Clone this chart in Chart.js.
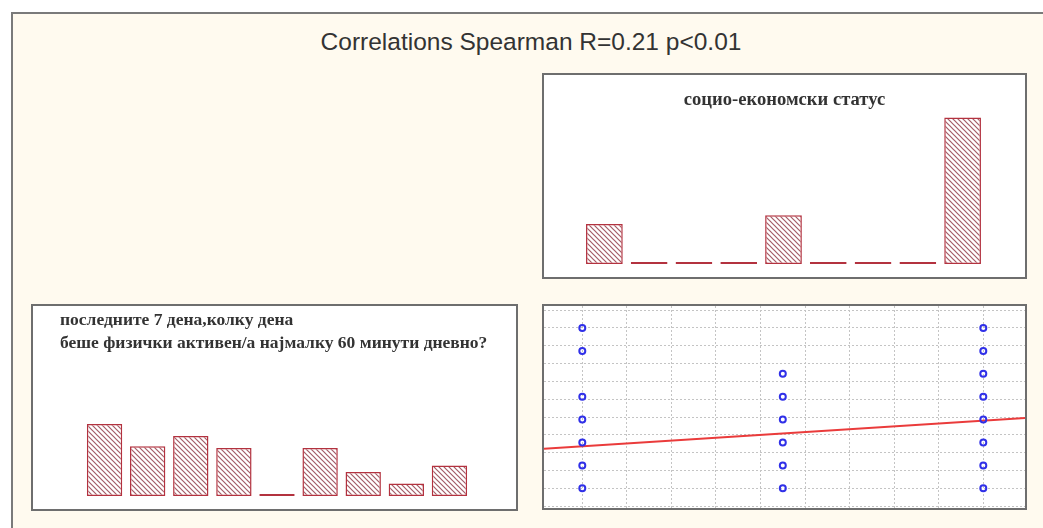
<!DOCTYPE html>
<html lang="mk">
<head>
    <meta charset="UTF-8">
    <title>Correlations Spearman</title>
    <script src="https://cdn.jsdelivr.net/npm/chart.js"></script>
    <style>
        * {
            margin: 0;
            padding: 0;
            box-sizing: border-box;
        }

        body {
            width: 1043px;
            height: 528px;
            overflow: hidden;
            position: relative;
            background: #ffffff;
            font-family: "Liberation Sans", Arial, sans-serif;
        }

        /* outer frame */
        .frame {
            position: absolute;
            left: 11px;
            top: 12px;
            width: 1040px;
            height: 520px;
            border-left: 2px solid #7a7a7a;
            border-top: 2px solid #7a7a7a;
            background: #fffaef;
        }

        .main-title {
            position: absolute;
            left: 0;
            top: 28px;
            width: 1062px;
            text-align: center;
            font-size: 24.5px;
            line-height: 28px;
            color: #333;
        }

        .panel {
            position: absolute;
            background: #fff;
            border: 2px solid #6e6e6e;
        }

        .panel canvas {
            position: absolute;
            left: 0;
            top: 0;
        }

        .panel-title {
            position: absolute;
            font-family: "Liberation Serif", "Times New Roman", serif;
            font-weight: bold;
            font-size: 17.5px;
            line-height: 23px;
            color: #333;
            white-space: nowrap;
        }

        #status { left: 542px; top: 73px; width: 485px; height: 206px; }
        #activity { left: 31px; top: 304px; width: 487px; height: 207px; }
        #scatter { left: 542px; top: 304px; width: 485px; height: 206px; }
    </style>
</head>
<body>

    <div class="frame"></div>
    <div class="main-title">Correlations Spearman R=0.21 p&lt;0.01</div>

    <!-- socio-economic status histogram -->
    <div class="panel" id="status">
        <canvas id="statusChart" width="481" height="202"></canvas>
        <div class="panel-title" style="left:0; width:481px; top:12px; text-align:center; font-size:18.6px;">социо-економски статус</div>
    </div>

    <!-- physical activity histogram -->
    <div class="panel" id="activity">
        <canvas id="activityChart" width="483" height="203"></canvas>
        <div class="panel-title" style="left:27px; top:2px;">последните 7 дена,колку дена<br>беше физички активен/а најмалку 60 минути дневно?</div>
    </div>

    <!-- scatter -->
    <div class="panel" id="scatter">
        <canvas id="scatterChart" width="481" height="202"></canvas>
    </div>

    <script>
        const statusBins = ['1', '2', '3', '4', '5', '6', '7', '8', '9'];
        const statusCounts = [9, 0, 0, 0, 11, 0, 0, 0, 33];

        const activityBins = ['1', '2', '3', '4', '5', '6', '7', '8', '9'];
        const activityCounts = [12, 8.3, 10, 8, 0, 8, 4, 2.1, 5.1];

        const scatterX = [1, 1, 1, 1, 1, 1, 1, 5, 5, 5, 5, 5, 5, 9, 9, 9, 9, 9, 9, 9, 9];
        const scatterY = [0, 1, 2, 3, 4, 6, 7, 0, 1, 2, 3, 4, 5, 0, 1, 2, 3, 4, 5, 6, 7];

        // fitted line y = fitA + fitB * x
        const fitA = 1.69;
        const fitB = 0.14;

        const X_MIN = 0.236, X_MAX = 9.832;
        const Y_MIN = -0.86, Y_MAX = 7.96;

        function hatch() {
            const c = document.createElement('canvas');
            c.width = 5;
            c.height = 5;
            const g = c.getContext('2d');
            g.fillStyle = '#ffffff';
            g.fillRect(0, 0, 5, 5);
            g.strokeStyle = '#a45c67';
            g.lineWidth = 1.2;
            g.beginPath();
            g.moveTo(-1, -1); g.lineTo(6, 6);
            g.moveTo(-1, 4); g.lineTo(1, 6);
            g.moveTo(4, -1); g.lineTo(6, 1);
            g.stroke();
            return g.createPattern(c, 'repeat');
        }

        function histChart(id, labels, values, yMax, pad) {
            return new Chart(document.getElementById(id), {
                type: 'bar',
                data: {
                    labels: labels,
                    datasets: [{
                        data: values,
                        backgroundColor: hatch(),
                        borderColor: '#b3323f',
                        borderWidth: 1.5,
                        borderSkipped: false,
                        minBarLength: 2,
                        barPercentage: 0.82,
                        categoryPercentage: 1
                    }]
                },
                options: {
                    responsive: false,
                    animation: false,
                    layout: { padding: pad },
                    plugins: { legend: { display: false }, tooltip: { enabled: false } },
                    scales: {
                        x: { display: false },
                        y: { display: false, min: 0, max: yMax }
                    }
                }
            });
        }

        histChart('statusChart', statusBins, statusCounts, 34, { left: 38, right: 40, top: 38, bottom: 13 });
        histChart('activityChart', activityBins, activityCounts, 13, { left: 50, right: 45, top: 112, bottom: 13 });

        // grid every 1/9 of the data span, like the original plot
        function gridTicks(start, step, min, max) {
            const ticks = [];
            for (let k = -2; k <= 12; k++) {
                const v = start + k * step;
                if (v >= min && v <= max) ticks.push({ value: v });
            }
            return ticks;
        }

        const points = scatterX.map((x, i) => ({ x: x, y: scatterY[i] }));
        const fitLine = [
            { x: X_MIN, y: fitA + fitB * X_MIN },
            { x: X_MAX, y: fitA + fitB * X_MAX }
        ];

        const gridStyle = { color: '#c4c4c4', lineWidth: 1, drawTicks: false };

        new Chart(document.getElementById('scatterChart'), {
            type: 'scatter',
            data: {
                datasets: [
                    {
                        type: 'line',
                        data: fitLine,
                        borderColor: '#ea3b3b',
                        borderWidth: 2,
                        pointRadius: 0,
                        order: 2
                    },
                    {
                        data: points,
                        pointStyle: 'circle',
                        pointRadius: 3,
                        pointBorderWidth: 2,
                        borderColor: '#3030e8',
                        backgroundColor: 'rgba(0,0,0,0)',
                        order: 1
                    }
                ]
            },
            options: {
                responsive: false,
                animation: false,
                layout: { padding: 0, autoPadding: false },
                plugins: { legend: { display: false }, tooltip: { enabled: false } },
                scales: {
                    x: {
                        type: 'linear',
                        min: X_MIN,
                        max: X_MAX,
                        ticks: { display: false },
                        grid: gridStyle,
                        border: { display: false, dash: [2, 2] },
                        afterBuildTicks: s => { s.ticks = gridTicks(1, 8 / 9, X_MIN, X_MAX); }
                    },
                    y: {
                        type: 'linear',
                        min: Y_MIN,
                        max: Y_MAX,
                        ticks: { display: false },
                        grid: gridStyle,
                        border: { display: false, dash: [2, 2] },
                        afterBuildTicks: s => { s.ticks = gridTicks(0, 7 / 9, Y_MIN, Y_MAX); }
                    }
                }
            }
        });
    </script>

</body>
</html>
